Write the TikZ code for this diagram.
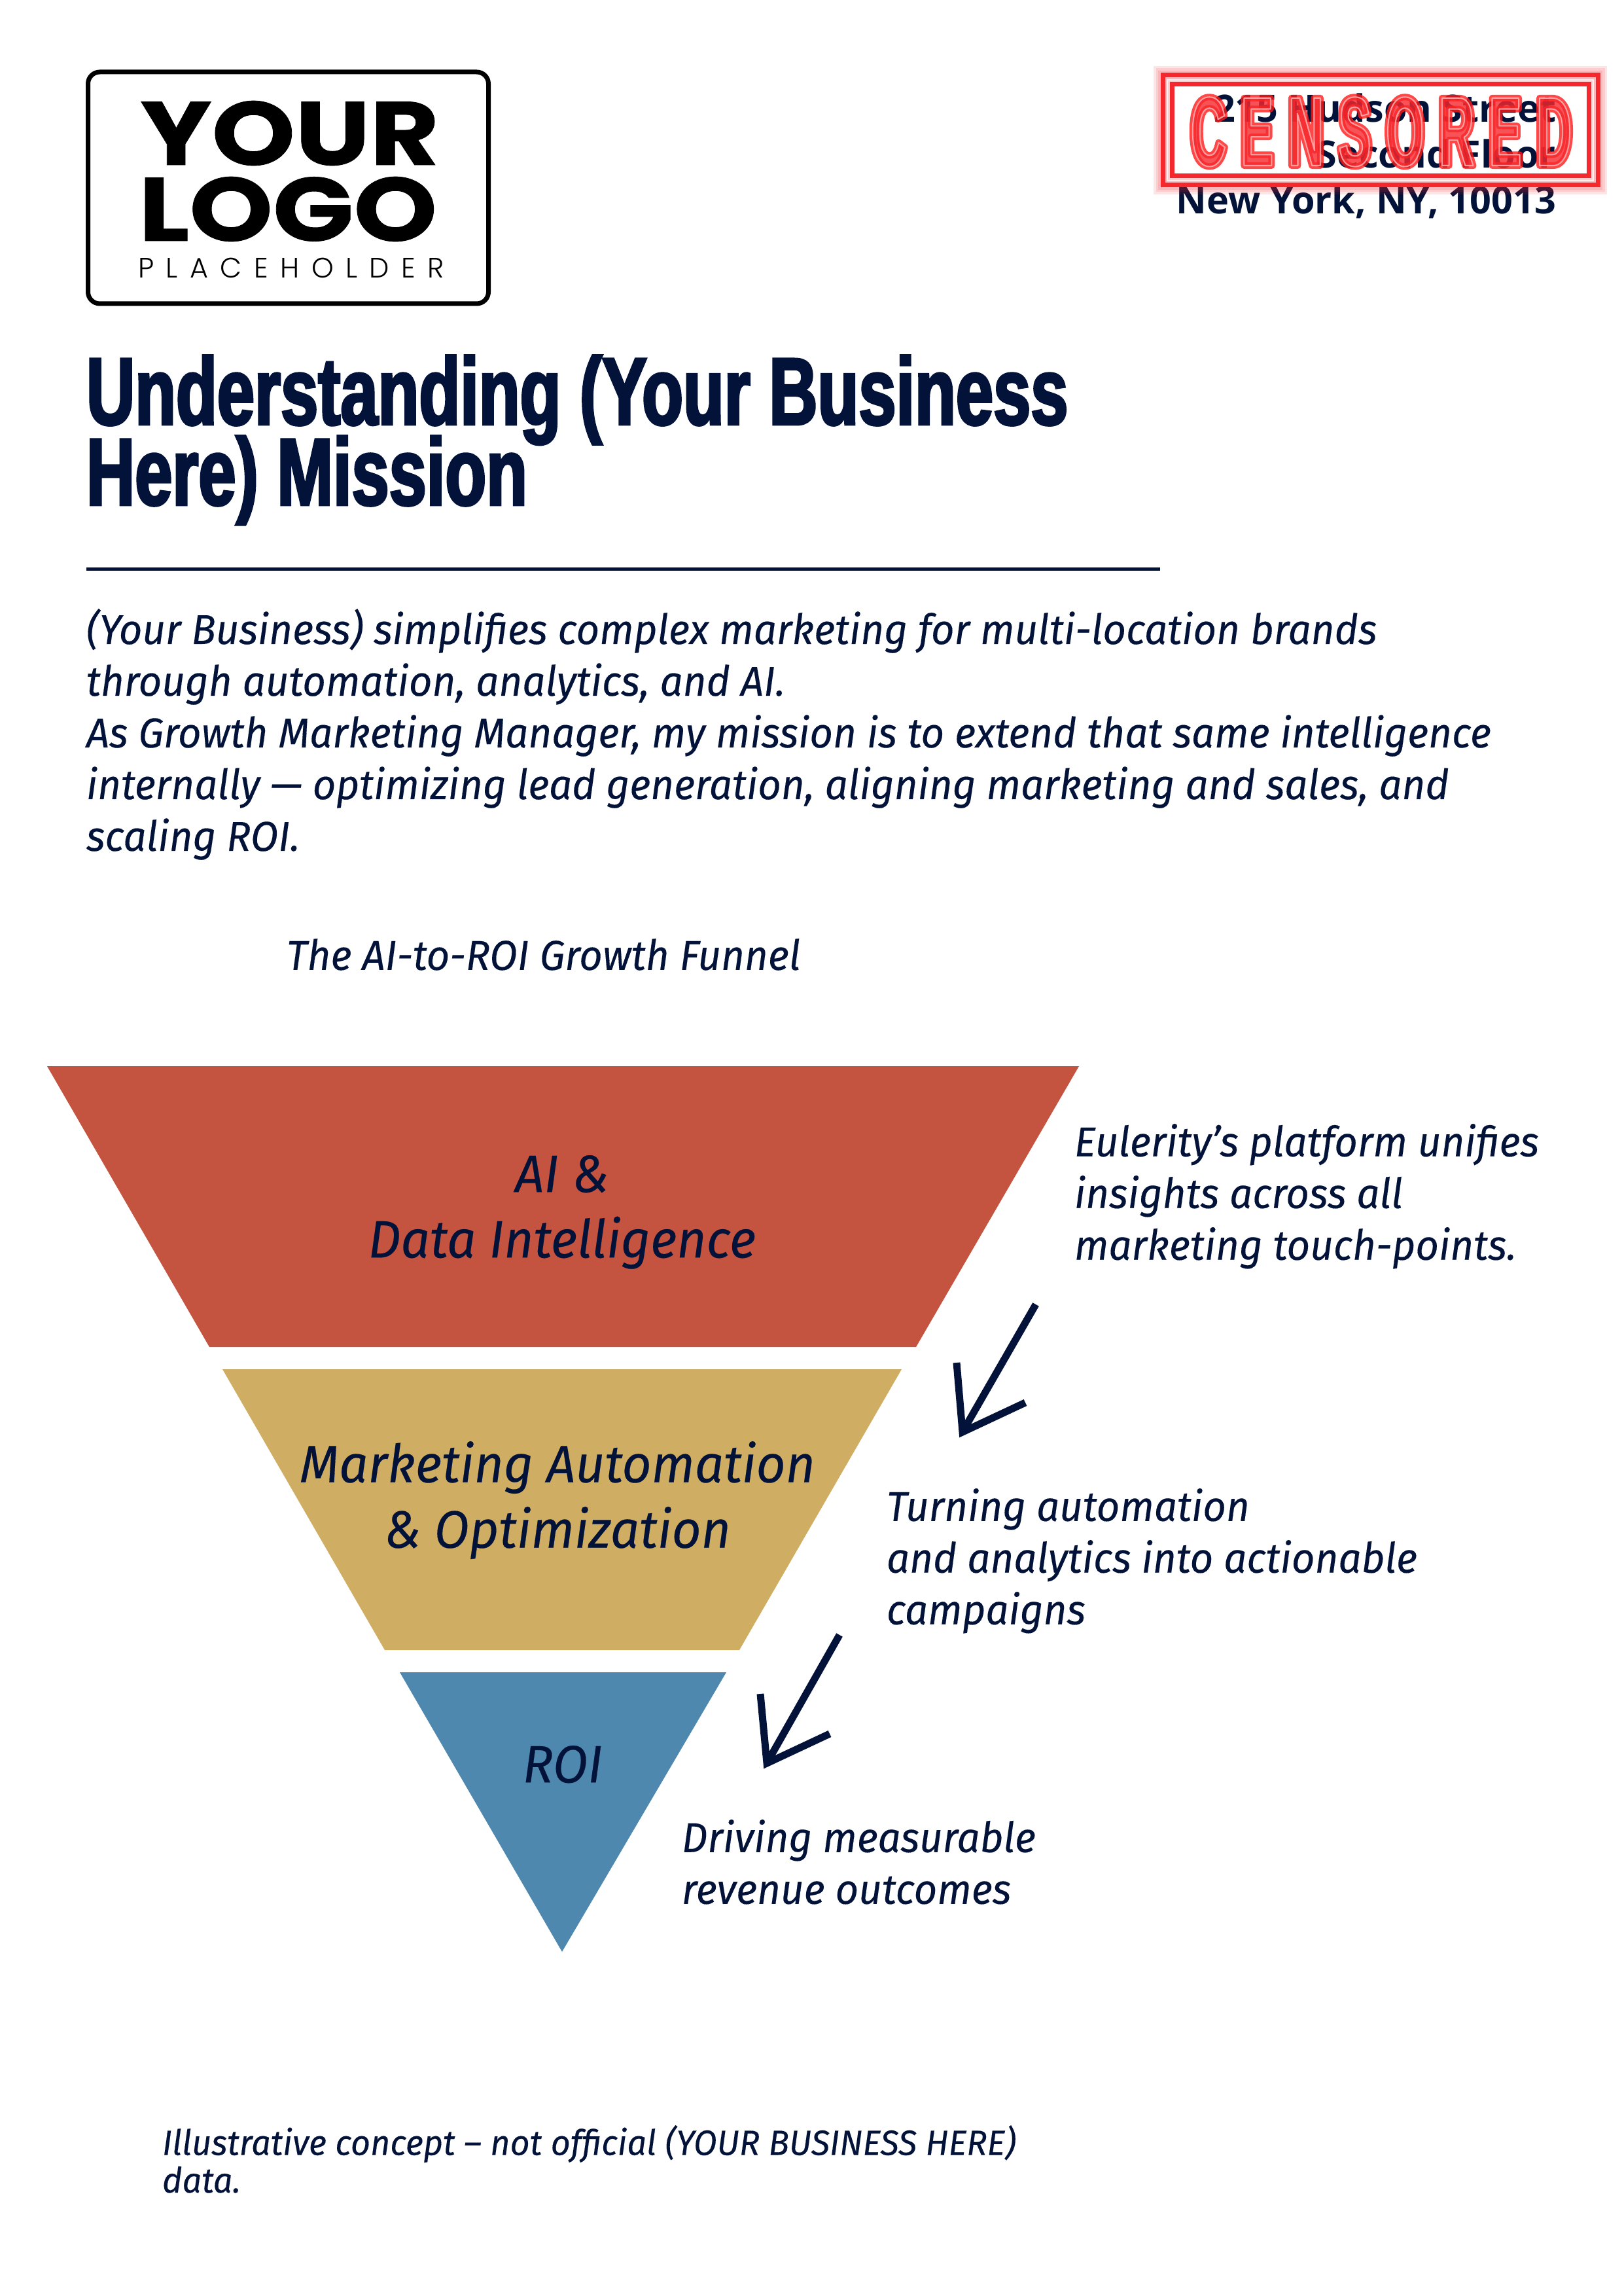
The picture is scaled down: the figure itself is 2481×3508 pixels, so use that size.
\documentclass[tikz,border=0pt]{standalone}
\usepackage{fontspec}
\setmainfont{Fira Sans}
\newfontfamily\bodyfont[FakeStretch=0.97,FakeBold=0.2]{Fira Sans}
\newfontfamily\titlefont[FakeStretch=0.705,FakeBold=2.5]{Liberation Sans}
\newfontfamily\addrfont{Open Sans}
\newfontfamily\logofont[FakeStretch=1.18,FakeBold=0.6]{Poppins}
\newfontfamily\logospaced[LetterSpace=43,UprightFont={* Light}]{Poppins}
\newfontfamily\stampfont[FakeStretch=0.50,LetterSpace=15]{Liberation Sans}
\setlength{\lineskiplimit}{-100pt}
\definecolor{navy}{HTML}{021238}
\definecolor{funred}{HTML}{C4533F}
\definecolor{fungold}{HTML}{CFAD62}
\definecolor{funblue}{HTML}{4F88AE}
\definecolor{stampred}{HTML}{F5282D}
\tikzset{
  x=0.24pt,y=-0.24pt,
  txt/.style={inner sep=0pt,outer sep=0pt,text=navy,align=left,anchor=north west},
  bodytxt/.style={txt,font=\bodyfont\itshape\fontsize{15.3}{18.96}\selectfont},
  funneltxt/.style={txt,align=center,anchor=north,font=\bodyfont\itshape\fontsize{19.3}{24}\selectfont},
  piece/.style={draw=none},
  pointer/.style={draw=navy,line width=11*0.24pt,line cap=butt,line join=miter,miter limit=20},
}
\newcommand{\stamptext}[1]{\special{pdf:literal direct 1 j 2 Tr #1 w 1 0.72 0.72 RG}CENSORED\special{pdf:literal direct 0 Tr}}
\newcommand{\glowtext}[1]{\special{pdf:literal direct 1 j 1 Tr #1 w 1 0.1 0.1 RG}CENSORED\special{pdf:literal direct 0 Tr}}
\begin{document}
\begin{tikzpicture}
\useasboundingbox (0,0) rectangle (2481,3508);
\fill[white] (0,0) rectangle (2481,3508);

% logo
\node[draw=black,line width=7*0.24pt,rounded corners=18*0.24pt,minimum width=612*0.24pt,minimum height=354*0.24pt,inner sep=0pt,anchor=center] (logobox) at (440.5,287) {};
\node[inner sep=0pt,anchor=base,text=black,font=\logofont\bfseries\fontsize{33}{33}\selectfont] (logoa) at (443,252) {YOUR};
\node[inner sep=0pt,anchor=base,text=black,font=\logofont\bfseries\fontsize{33}{33}\selectfont] (logob) at (440,368) {LOGO};
\node[inner sep=0pt,anchor=base,text=black,font=\logospaced\fontsize{10.3}{10.3}\selectfont] (logoc) at (445,425) {PLACEHOLDER};

% address
\node[txt,align=right,anchor=north east,font=\addrfont\bfseries\fontsize{13.8}{16.8}\selectfont] (addr) at (2378,143) {215 Hudson Street\\Second Floor\\New York, NY, 10013};

% stamp
\foreach \w in {28,21,14} {\draw[stampred,draw opacity=.12,line width=\w*0.24pt] (1777,115) rectangle (2442,283);}
\draw[stampred,line width=7*0.24pt] (1777,115) rectangle (2442,283);
\draw[stampred,line width=7*0.24pt] (1791,129) rectangle (2428,269);
\draw[white,opacity=.75,line width=2*0.24pt] (1784,122) rectangle (2435,276);
\begin{scope}[draw opacity=.5]
\node[inner sep=0pt,anchor=base,text=stampred,text opacity=.8,font=\stampfont\bfseries\fontsize{36}{36}\selectfont] (stampglow) at (2111,253) {\glowtext{2.4}};
\end{scope}
\node[inner sep=0pt,anchor=base,text=stampred,text opacity=.8,font=\stampfont\bfseries\fontsize{36}{36}\selectfont] (stamp) at (2111,253) {\stamptext{0.5}};

% title
\node[txt,text=navy,font=\titlefont\bfseries\fontsize{35}{29.5}\selectfont] (title) at (132,543) {Understanding (Your Business\\Here) Mission};
\coordinate (ruleL) at (132,870);
\coordinate (ruleR) at (1773,870);
\draw[navy,line width=5*0.24pt] (ruleL) -- (ruleR);

% intro
\node[bodytxt] (intro) at (132,930) {(Your Business) simplifies complex marketing for multi-location brands\\through automation, analytics, and AI.\\As Growth Marketing Manager, my mission is to extend that same intelligence\\internally — optimizing lead generation, aligning marketing and sales, and\\scaling ROI.};
\node[bodytxt] (ftitle) at (438,1434) {The AI-to-ROI Growth Funnel};

% funnel
\fill[funred,piece] (72,1629) -- (1649,1629) -- (1400,2058) -- (320,2058) -- cycle;
\fill[fungold,piece] (340,2092) -- (1378,2092) -- (1130,2521) -- (588,2521) -- cycle;
\fill[funblue,piece] (611,2555) -- (1110,2555) -- (859,2982) -- cycle;
\node[funneltxt] (la) at (859,1765) {AI \&\\Data Intelligence};
\node[funneltxt] (lb) at (852,2202) {Marketing Automation\\\& Optimization};
\node[funneltxt] (lc) at (860,2667) {ROI};

% notes
\node[bodytxt] (na) at (1642,1717) {Eulerity’s platform unifies\\insights across all\\marketing touch-points.};
\node[bodytxt] (nb) at (1355,2274) {Turning automation\\and analytics into actionable\\campaigns};
\node[bodytxt] (nc) at (1042,2780) {Driving measurable\\revenue outcomes};

% arrows
\coordinate (ata) at (1583,1993);
\coordinate (atb) at (1472,2186);
\coordinate (awa) at (1462,2082);
\coordinate (awb) at (1567,2143);
\draw[pointer] (ata) -- (atb);
\draw[pointer] (awa) -- (1471,2188) -- (awb);
\coordinate (bta) at (1283,2498);
\coordinate (btb) at (1173,2692);
\coordinate (bwa) at (1162,2588);
\coordinate (bwb) at (1268,2649);
\draw[pointer] (bta) -- (btb);
\draw[pointer] (bwa) -- (1172,2694) -- (bwb);

% footer
\node[txt,font=\bodyfont\itshape\fontsize{12.9}{13.8}\selectfont] (foot) at (248,3247) {Illustrative concept – not official (YOUR BUSINESS HERE)\\data.};
\end{tikzpicture}
\end{document}
